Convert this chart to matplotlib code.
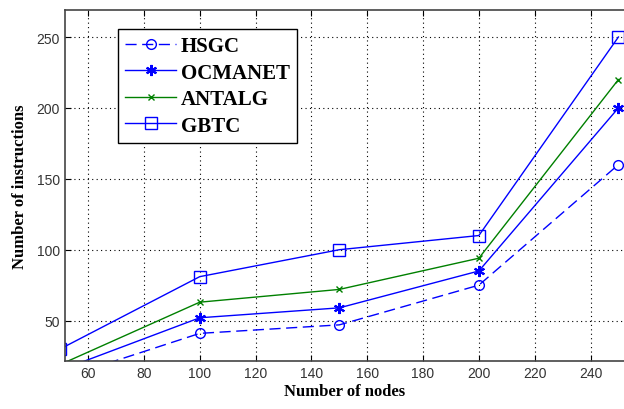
import matplotlib.pyplot as plt

# data
nodes = [50, 100, 150, 200, 250]
hsgc = [9, 41, 47, 75, 160]
ocmanet = [15, 52, 59, 85, 200]
antalg = [19, 63, 72, 94, 220]
gbtc = [30, 81, 100, 110, 250]

series_names = ['HSGC', 'OCMANET', 'ANTALG', 'GBTC']
x_ticks = [60, 80, 100, 120, 140, 160, 180, 200, 220, 240]
y_ticks = [50, 100, 150, 200, 250]

blue = '#0000ff'
green = '#008000'

fig = plt.figure(figsize=(6.24, 4.10), dpi=100)
ax = fig.add_axes([0.104, 0.117, 0.896, 0.856])

ax.plot(nodes, hsgc, 'o', color=blue, ls=(0, (8, 4)), lw=1, ms=7, mfc='none', label=series_names[0])
ax.plot(nodes, ocmanet, color=blue, marker=(6, 2, 0), mew=1.5, lw=1, ms=8, label=series_names[1])
ax.plot(nodes, antalg, '-x', color=green, lw=1, ms=5, label=series_names[2])
ax.plot(nodes, gbtc, '-s', color=blue, lw=1, ms=8, mfc='none', label=series_names[3])

ax.set_xlim(51.7, 252)
ax.set_ylim(21.5, 269)
ax.set_xticks(x_ticks)
ax.set_yticks(y_ticks)
ax.grid(True, linestyle=(0, (1, 3)), color='black', lw=0.8)
ax.tick_params(direction='in', top=True, labelsize=10, length=4, colors='black')
for lab in ax.get_xticklabels() + ax.get_yticklabels():
    lab.set_family('Liberation Sans')
    lab.set_color('#333333')
ax.spines['right'].set_visible(False)
for s in ['left', 'bottom', 'top']:
    ax.spines[s].set_color('#444444')
    ax.spines[s].set_linewidth(1.2)

ax.set_xlabel('Number of nodes', family='Liberation Serif', fontweight='bold', fontsize=12, labelpad=2)
ax.set_ylabel('Number of instructions', family='Liberation Serif', fontweight='bold', fontsize=12, labelpad=6)

leg = ax.legend(loc='upper left', bbox_to_anchor=(0.095, 0.946), borderaxespad=0,
                fancybox=False, edgecolor='black', framealpha=1, handlelength=2.45,
                handletextpad=0.2, prop={'family': 'Liberation Serif', 'weight': 'bold', 'size': 15},
                labelspacing=0.31, borderpad=0.35)
leg.get_frame().set_linewidth(1.0)

fig.savefig('out.png', dpi=100)
